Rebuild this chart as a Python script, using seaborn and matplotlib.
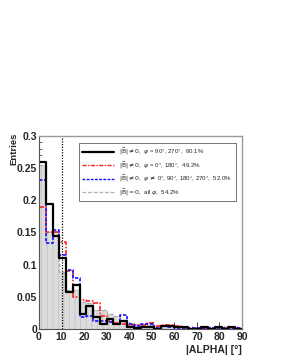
import numpy as np
import pandas as pd
import matplotlib
matplotlib.use("Agg")
import matplotlib.pyplot as plt
import seaborn as sns
from matplotlib.lines import Line2D

bin_edges = list(range(0, 91, 3))
centers = [e + 1.5 for e in bin_edges[:-1]]

black_vals = [0.26, 0.195, 0.145, 0.111, 0.058, 0.068, 0.024, 0.035, 0.018, 0.008,
              0.015, 0.008, 0.013, 0.003, 0.001, 0.003, 0.003, 0.0, 0.004, 0.004,
              0.003, 0.003, 0.0, 0.0, 0.003, 0.0, 0.003, 0.0, 0.003, 0.0]
red_vals = [0.19, 0.151, 0.151, 0.136, 0.09, 0.05, 0.045, 0.043, 0.04, 0.02,
            0.012, 0.01, 0.008, 0.006, 0.006, 0.006, 0.01, 0.005, 0.006, 0.006,
            0.004, 0.002, 0.002, 0.001, 0.002, 0.001, 0.002, 0.001, 0.002, 0.001]
blue_vals = [0.232, 0.134, 0.154, 0.115, 0.092, 0.079, 0.019, 0.02, 0.012, 0.012,
             0.011, 0.008, 0.022, 0.008, 0.004, 0.007, 0.007, 0.002, 0.004, 0.003,
             0.002, 0.001, 0.002, 0.001, 0.001, 0.001, 0.001, 0.001, 0.001, 0.001]
gray_vals = [0.255, 0.151, 0.15, 0.089, 0.061, 0.06, 0.042, 0.04, 0.03, 0.03,
             0.023, 0.02, 0.014, 0.01, 0.008, 0.007, 0.006, 0.005, 0.005, 0.004,
             0.003, 0.003, 0.002, 0.002, 0.002, 0.002, 0.001, 0.001, 0.001, 0.001]

labels = [
    r"$|\vec{\mathrm{B}}|\neq0$,  $\varphi$ = 90°, 270°,  60.1%",
    r"$|\vec{\mathrm{B}}|\neq0$,  $\varphi$ = 0°, 180°,  49.2%",
    r"$|\vec{\mathrm{B}}|\neq0$,  $\varphi\neq$ 0°, 90°, 180°, 270°,  52.0%",
    r"$|\vec{\mathrm{B}}|=0$,  all $\varphi$,  54.2%",
]

df = pd.DataFrame({"alpha": centers, "black": black_vals, "red": red_vals,
                   "blue": blue_vals, "gray": gray_vals})

sns.set_style("ticks")
plt.rcParams['font.family'] = ['Liberation Sans', 'DejaVu Sans']
plt.rcParams['mathtext.fontset'] = 'dejavusans'
plt.rcParams['hatch.linewidth'] = 0.6

fig = plt.figure(figsize=(2.81, 3.63), dpi=100)
ax = fig.add_axes([39/281, 1-329/363, (242-39)/281, (329-136)/363])

# gray filled histogram
sns.histplot(data=df, x="alpha", weights="gray", bins=bin_edges, element="step",
             fill=True, color="#d4d4d4", alpha=1.0, linewidth=0, ax=ax)
for p in ax.collections:
    p.set_edgecolor("#c4c4c4")
    p.set_facecolor("#dcdcdc")
    p.set_hatch("|||")
sns.histplot(data=df, x="alpha", weights="gray", bins=bin_edges, element="step",
             fill=False, color="#a8a8a8", linewidth=0.9, linestyle=(0, (3, 1.5)), ax=ax)
sns.histplot(data=df, x="alpha", weights="red", bins=bin_edges, element="step",
             fill=False, color="#ff2020", linewidth=1.2, linestyle=(0, (3, 1, 1, 1)), ax=ax)
sns.histplot(data=df, x="alpha", weights="blue", bins=bin_edges, element="step",
             fill=False, color="#1010ff", linewidth=1.2, linestyle=(0, (2, 1)), ax=ax)
sns.histplot(data=df, x="alpha", weights="black", bins=bin_edges, element="step",
             fill=False, color="black", linewidth=1.6, ax=ax)

ax.axvline(10, color="black", linestyle=(0, (1, 1.2)), linewidth=0.9)

ax.set_xlim(0, 90)
ax.set_ylim(0, 0.3)
ax.set_xticks(np.arange(0, 91, 10))
ax.set_xticklabels([str(v) for v in range(0, 91, 10)])
ax.set_yticks([0, 0.05, 0.1, 0.15, 0.2, 0.25, 0.3])
ax.set_yticklabels(["0", "0.05", "0.1", "0.15", "0.2", "0.25", "0.3"])
ax.set_xticks(np.arange(0, 91, 2), minor=True)
ax.set_yticks(np.arange(0, 0.301, 0.01), minor=True)
ax.tick_params(axis="both", which="major", direction="in", length=5, width=0.6,
               labelsize=7.5, pad=1.5)
ax.tick_params(axis="x", which="major", pad=2.5)
ax.tick_params(axis="both", which="minor", direction="in", length=2.5, width=0.5)
for lab in ax.get_xticklabels() + ax.get_yticklabels():
    lab.set_fontweight("bold")
for s in ["left", "bottom"]:
    ax.spines[s].set_color("#555555")
    ax.spines[s].set_linewidth(0.8)
for s in ["top", "right"]:
    ax.spines[s].set_visible(True)
    ax.spines[s].set_color("#9a9a9a")
    ax.spines[s].set_linewidth(1.0)

ax.set_ylabel("Entries", fontsize=6.8, fontweight="bold", loc="top", labelpad=2)
ax.yaxis.set_label_coords(-0.1, 1.015)
ax.set_xlabel("|ALPHA| [°]", fontsize=7.5, fontweight="bold", loc="right", labelpad=1.5)

handles = [
    Line2D([], [], color="black", lw=1.6),
    Line2D([], [], color="#ff2020", lw=1.0, linestyle=(0, (3, 1, 1, 1))),
    Line2D([], [], color="#1010ff", lw=1.0, linestyle=(0, (2, 1))),
    Line2D([], [], color="#b0b0b0", lw=0.9, linestyle=(0, (3, 1.5))),
]
leg = ax.legend(handles, labels, loc="upper left", bbox_to_anchor=(0.195, 0.965),
                fontsize=4.4, frameon=True, fancybox=False, handlelength=5.2,
                handletextpad=0.9, borderpad=0.55, labelspacing=0.38,
                borderaxespad=0)
leg.get_frame().set_edgecolor("#333333")
leg.get_frame().set_linewidth(0.6)

fig.savefig("out.png", dpi=100)
